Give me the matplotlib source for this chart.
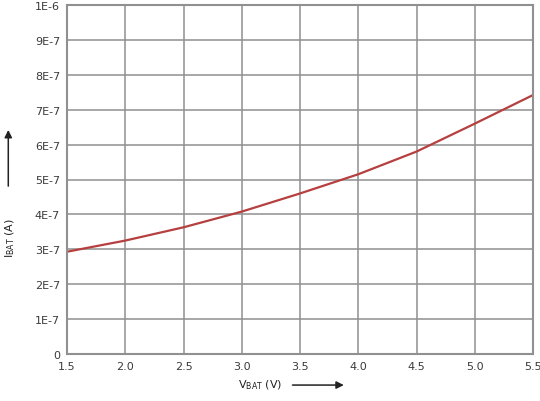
import matplotlib.pyplot as plt

# Datos
vbat = [1.5, 2.0, 2.5, 3.0, 3.5, 4.0, 4.5, 5.0, 5.5]
ibat = [2.93e-7, 3.25e-7, 3.63e-7, 4.08e-7, 4.6e-7, 5.15e-7, 5.8e-7, 6.6e-7, 7.42e-7]

x_ticks = [1.5, 2.0, 2.5, 3.0, 3.5, 4.0, 4.5, 5.0, 5.5]
x_labels = ['1.5', '2.0', '2.5', '3.0', '3.5', '4.0', '4.5', '5.0', '5.5']
y_ticks = [0, 1e-7, 2e-7, 3e-7, 4e-7, 5e-7, 6e-7, 7e-7, 8e-7, 9e-7, 1e-6]
y_labels = ['0', '1E-7', '2E-7', '3E-7', '4E-7', '5E-7', '6E-7', '7E-7', '8E-7', '9E-7', '1E-6']

fig = plt.figure(figsize=(5.4, 4.02), dpi=100)
ax = fig.add_axes([67 / 540, 47 / 402, 466 / 540, 349 / 402])

ax.plot(vbat, ibat, color='#b5403f', linewidth=1.6)

ax.set_xlim(1.5, 5.5)
ax.set_ylim(0, 1e-6)
ax.set_xticks(x_ticks)
ax.set_xticklabels(x_labels)
ax.set_yticks(y_ticks)
ax.set_yticklabels(y_labels)
ax.tick_params(length=0, labelsize=8, colors='#3a3a3a', pad=5)
ax.grid(True, color='#909090', linewidth=1.1)
for s in ax.spines.values():
    s.set_color('#909090')
    s.set_linewidth(1.5)

# Etiquetas de ejes con flechas
fig.text(260 / 540, (402 - 385) / 402, r'V$_{\mathregular{BAT}}$ (V)', fontsize=8, color='#222222',
         ha='center', va='center')
ax.annotate('', xy=(0.60, -0.089), xytext=(0.478, -0.089), xycoords='axes fraction',
            arrowprops=dict(arrowstyle='-|>', color='#222222', lw=1.1, mutation_scale=11))
fig.text(10 / 540, (402 - 238) / 402, r'I$_{\mathregular{BAT}}$ (A)', fontsize=8, color='#222222',
         rotation=90, ha='center', va='center')
ax.annotate('', xy=(-0.126, 0.65), xytext=(-0.126, 0.473), xycoords='axes fraction',
            arrowprops=dict(arrowstyle='-|>', color='#222222', lw=1.1, mutation_scale=11))

plt.savefig('out.png', dpi=100)
